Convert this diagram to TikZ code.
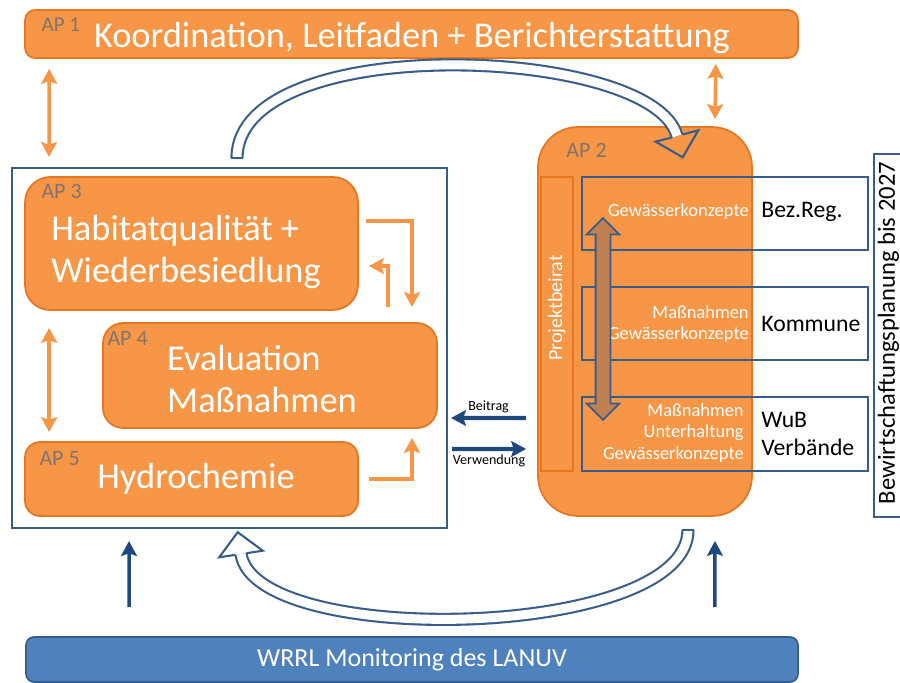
\documentclass[tikz,border=0pt]{standalone}
\usepackage{fontspec}
\setmainfont{Carlito}
\usepackage{tikz}
\usetikzlibrary{arrows.meta, positioning, shapes.arrows, calc}

\definecolor{apfill}{RGB}{247,150,70}
\definecolor{apline}{RGB}{230,118,34}
\definecolor{aptag}{RGB}{128,116,108}
\definecolor{frameblue}{RGB}{56,93,138}
\definecolor{darkblue}{RGB}{31,73,125}
\definecolor{monblue}{RGB}{79,129,189}
\definecolor{linkfill}{RGB}{192,128,82}

\begin{document}
\begin{tikzpicture}[x=0.02cm, y=-0.02cm,
            ap/.style={rectangle, draw=apline, line width=1pt, fill=apfill},
            frm/.style={rectangle, draw=frameblue, line width=1.2pt},
            tag/.style={text=aptag, font=\fontsize{12.5}{13}\selectfont,
                    inner sep=0pt, anchor=north west},
            apname/.style={text=white, font=\fontsize{20.7}{24}\selectfont,
                    align=left, inner sep=0pt},
            small/.style={text=white, font=\fontsize{10.5}{12}\selectfont,
                    align=right, inner sep=0pt},
            role/.style={font=\fontsize{13.5}{16}\selectfont, align=left,
                    inner sep=0pt},
            oarr/.style={draw=apfill, line width=2pt,
                    -{Stealth[length=8.5pt,width=9pt,inset=1.5pt]}},
            obiarr/.style={draw=apfill, line width=2pt,
                    {Stealth[length=8.5pt,width=9pt,inset=1.5pt]}-{Stealth[length=8.5pt,width=9pt,inset=1.5pt]}},
            barr/.style={draw=darkblue, line width=2.3pt,
                    -{Stealth[length=8.5pt,width=9pt,inset=1.5pt]}},
            loop/.style={draw=frameblue, line width=1.2pt, double=white,
                    double distance=5.1pt},
            loophead/.style={draw=frameblue, line width=1.2pt, line join=miter}
            ]
            \useasboundingbox (0,0) rectangle (900,683);

            %% ---- AP 1 ----
            \node[ap, rounded corners=0.2cm, minimum width=15.46cm,
                  minimum height=0.96cm] (ap1) at (411.5,34) {};
            \node[tag, font=\fontsize{12}{13}\selectfont]
                  (ap1tag) at ([xshift=0.34cm,yshift=-0.16cm]ap1.north west) {AP 1};
            \node[apname] (ap1txt) at (412,38) {Koordination, Leitfaden + Berichterstattung};

            %% ---- left block: AP 3, AP 4, AP 5 ----
            \node[frm, minimum width=8.7cm, minimum height=7.2cm] (frame) at (229.5,348) {};

            \node[ap, rounded corners=0.5cm, minimum width=6.66cm,
                  minimum height=2.66cm] (ap3) at (191.5,243.5) {};
            \node[tag] (ap3tag) at ([xshift=0.34cm,yshift=-0.16cm]ap3.north west) {AP 3};
            \node[apname] (ap3txt) at (186,252) {Habitatqualität +\\Wiederbesiedlung};

            \node[ap, rounded corners=0.4cm, minimum width=6.68cm,
                  minimum height=2.1cm] (ap4) at (270,375.5) {};
            \node[tag] (ap4tag) at ([xshift=0.1cm,yshift=-0.18cm]ap4.north west) {AP 4};
            \node[apname] (ap4txt) at (262,379) {Evaluation\\Maßnahmen};

            \node[ap, rounded corners=0.3cm, minimum width=6.66cm,
                  minimum height=1.48cm] (ap5) at (191.5,479) {};
            \node[tag] (ap5tag) at ([xshift=0.3cm,yshift=-0.2cm]ap5.north west) {AP 5};
            \node[apname] (ap5txt) at (196,479) {Hydrochemie};

            %% ---- AP 2 with Projektbeirat ----
            \node[ap, rounded corners=0.8cm, minimum width=4.28cm,
                  minimum height=7.78cm] (ap2) at (645,321.5) {};
            \node[tag] (ap2tag) at ([xshift=0.58cm,yshift=-0.34cm]ap2.north west) {AP 2};
            \node[ap, minimum width=0.64cm, minimum height=5.88cm] (beirat) at (557,324) {};
            \node[small, rotate=90, font=\fontsize{11.4}{12}\selectfont]
                  (beirattxt) at (557,308) {Projektbeirat};

            %% partner rows
            \node[frm, minimum width=5.72cm, minimum height=1.46cm] (row1) at (725,213.5) {};
            \node[frm, minimum width=5.72cm, minimum height=1.46cm] (row2) at (725,323.5) {};
            \node[frm, minimum width=5.72cm, minimum height=1.48cm] (row3) at (725,434) {};

            \node[small, anchor=east] (row1txt) at (749,212) {Gewässerkonzepte};
            \node[small, anchor=east] (row2txt) at (749,324) {Maßnahmen\\Gewässerkonzepte};
            \node[small, anchor=east] (row3txt) at (744,433) {Maßnahmen\\Unterhaltung\\Gewässerkonzepte};

            \node[role, anchor=west] (bezreg) at (761,212) {Bez.Reg.};
            \node[role, anchor=west] (kommune) at (761,324) {Kommune};
            \node[role, anchor=west] (wub) at (761,434) {WuB\\Verbände};

            \node[draw=frameblue, line width=1pt, fill=linkfill, double arrow,
                  rotate=90, minimum height=4.04cm, inner xsep=0pt, inner ysep=0.13cm,
                  double arrow head extend=0.18cm] (link) at (603,319) {};

            %% planning frame on the right
            \node[frm, minimum width=0.82cm, minimum height=7.26cm] (plan) at (894.5,335.5) {};
            \node[role, rotate=90, font=\fontsize{14}{16}\selectfont]
                  (plantxt) at (888.5,333) {Bewirtschaftungsplanung bis 2027};

            %% ---- monitoring ----
            \node[rectangle, rounded corners=0.16cm, draw=frameblue, line width=1pt,
                  fill=monblue, minimum width=15.44cm, minimum height=0.9cm,
                  text=white, font=\fontsize{14.8}{16}\selectfont] (wrrl) at (412,659.5)
                  {WRRL Monitoring des LANUV};

            %% ---- orange links ----
            \draw[obiarr] ([xshift=0.5cm,yshift=-0.2cm]ap1.south west)
                  -- ([xshift=0.76cm,yshift=0.2cm]frame.north west);
            \draw[obiarr] ([xshift=-1.66cm,yshift=-0.1cm]ap1.south east)
                  -- ([xshift=1.4cm,yshift=0.14cm]ap2.north);
            \draw[obiarr] ([xshift=0.5cm,yshift=-0.34cm]ap3.south west)
                  -- ([xshift=0.5cm,yshift=0.18cm]ap5.north west);
            \draw[oarr] ([xshift=0.14cm,yshift=0.45cm]ap3.east)
                  -| ([xshift=2.84cm,yshift=0.3cm]ap4.north);
            \draw[oarr] ([xshift=2.36cm,yshift=0.3cm]ap4.north)
                  |- ([xshift=0.2cm,yshift=-0.45cm]ap3.east);
            \draw[oarr] ([xshift=0.2cm]ap5.east)
                  -| ([xshift=2.84cm,yshift=-0.18cm]ap4.south);

            %% ---- Beitrag / Verwendung ----
            \draw[barr] ([xshift=-0.22cm,yshift=-1.93cm]ap2.west)
                  -- node[above=1pt, font=\fontsize{8}{9}\selectfont, inner sep=1pt]{Beitrag}
                  ([xshift=0.06cm,yshift=-1.4cm]frame.east);
            \draw[barr] ([xshift=0.08cm,yshift=-2.02cm]frame.east)
                  -- node[below=1pt, font=\fontsize{8}{9}\selectfont, inner sep=1pt]{Verwendung}
                  ([xshift=-0.22cm,yshift=-2.55cm]ap2.west);

            %% ---- monitoring feeds ----
            \draw[barr, line width=2pt] ([xshift=-5.66cm,yshift=0.58cm]wrrl.north)
                  -- ([xshift=-2.01cm,yshift=-0.24cm]frame.south);
            \draw[barr, line width=2pt] ([xshift=6.06cm,yshift=0.58cm]wrrl.north)
                  -- ([xshift=1.4cm,yshift=-0.48cm]ap2.south);

            %% ---- feedback loops ----
            \coordinate (topS) at (237,158);
            \coordinate (topE) at (677,136);
            \draw[loop] (topS) .. controls +(0,-128) and +(-24,-91) .. (topE);
            \draw[loophead] ([xshift=-0.112cm]topS) -- ([xshift=0.112cm]topS);
            \draw[loophead] ($(topE)+(-5.4,1.5)$) -- ($(topE)+(-21.3,5.7)$)
                  -- ($(topE)+(5.7,21.3)$) -- ($(topE)+(21.3,-5.7)$) -- ($(topE)+(5.4,-1.5)$);

            \coordinate (botS) at (688,530);
            \coordinate (botE) at (241,554);
            \draw[loop] (botS) .. controls +(0,110) and +(14.4,95) .. (botE);
            \draw[loophead] ([xshift=-0.112cm]botS) -- ([xshift=0.112cm]botS);
            \draw[loophead] ($(botE)+(-5.5,0.8)$) -- ($(botE)+(-21.8,3.3)$)
                  -- ($(botE)+(-3.3,-21.8)$) -- ($(botE)+(21.8,-3.3)$) -- ($(botE)+(5.5,-0.8)$);
        \end{tikzpicture}
\end{document}
